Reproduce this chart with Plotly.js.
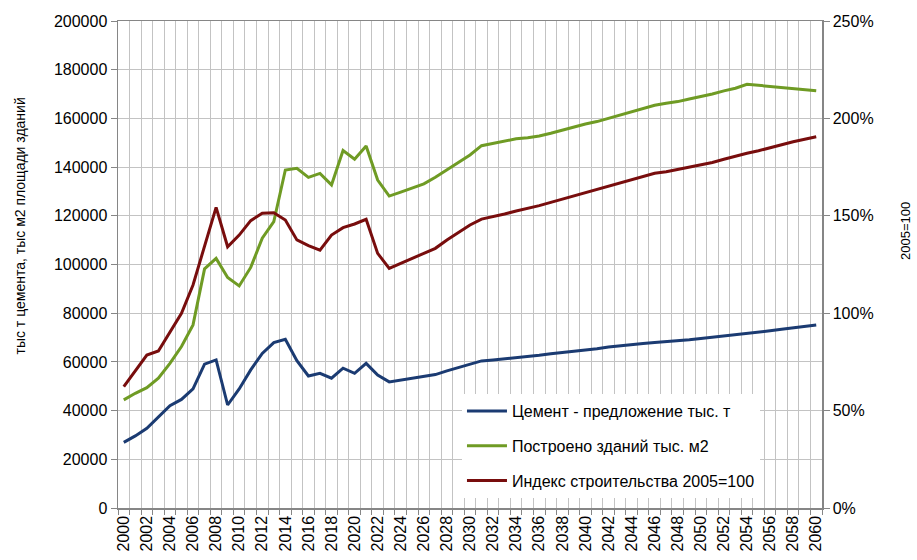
<!DOCTYPE html>
<html>
<head>
<meta charset="utf-8">
<script src="https://cdn.plot.ly/plotly-3.0.1.min.js"></script>
<style>html,body{margin:0;padding:0;background:#fff;}#chart{width:917px;height:560px;}</style>
</head>
<body>
<div id="chart"></div>
<script>
const years = [];
for (let y = 2000; y <= 2060; y++) years.push(y);

const cement = [26970,29600,32700,37500,42000,44600,48900,59100,60800,42300,
  48900,56700,63500,67900,69300,60500,54200,55300,53300,57400,
  55300,59400,54600,51800,52500,53300,54000,54800,56300,57600,
  58800,60400,60800,61200,61700,62300,62700,63300,63800,64400,
  64900,65400,66100,66700,67200,67600,68000,68300,68700,69100,
  69600,70100,70600,71200,71700,72300,72800,73400,73900,74500,75200];

const buildings = [44400,47100,49400,53300,59400,66300,75200,98200,102500,94700,
  91200,98800,110800,117600,138800,139500,135800,137400,132700,146800,
  143200,148700,134700,128100,129700,131300,133100,135800,138800,141800,
  145000,148800,149800,150700,151600,152100,152800,153900,155200,156300,
  157700,158700,160000,161400,162500,164100,165400,166200,166900,168000,
  168900,170000,171300,172400,174000,173600,173200,172800,172400,171900,171400];

const indexPct = [62.3,70.3,78.5,80.6,90.5,100,114.5,135,154.3,134.1,
  140.1,147.5,151.3,151.6,147.8,137.6,134.7,132.4,140.1,143.9,
  145.8,148.2,130.7,123,125.6,128.2,130.7,133.3,137.6,141.3,
  145.3,148.3,149.5,150.9,152.5,153.8,155.2,156.9,158.6,160.3,
  162,163.7,165.4,167,168.7,170.4,171.8,172.6,173.8,174.7,
  176.1,177.4,179,180.7,182.1,183.4,185,186.7,188,189.3,190.6];

const seriesNames = ["Цемент - предложение тыс. т", "Построено зданий тыс. м2", "Индекс строительства 2005=100"];
const xTickVals = years.filter(y => (y - 2000) % 2 === 0);
const xTickText = xTickVals.map(String);

const FONT = "Liberation Sans, Arial, sans-serif";

const traces = [
  {x: years, y: cement, name: seriesNames[0], type: "scatter", mode: "lines",
   line: {color: "#1b3b72", width: 3}, legendgroup: "a"},
  {x: years, y: buildings, name: seriesNames[1], type: "scatter", mode: "lines",
   line: {color: "#6f9b24", width: 3}, legendgroup: "b"},
  {x: years, y: indexPct, name: seriesNames[2], type: "scatter", mode: "lines",
   line: {color: "#780d0d", width: 3}, legendgroup: "c", yaxis: "y2"}
];

const layout = {
  width: 917, height: 560,
  margin: {l: 118, r: 95, t: 21, b: 52, pad: 0},
  paper_bgcolor: "#fff", plot_bgcolor: "#fff",
  font: {family: FONT, size: 16, color: "#000"},
  showlegend: true,
  legend: {x: 0.4886, y: 0.234, xanchor: "left", yanchor: "top",
    bgcolor: "#fff", borderwidth: 0, traceorder: "grouped", tracegroupgap: 11,
    itemwidth: 40, font: {family: FONT, size: 16, color: "#000"}},
  xaxis: {
    range: [1999.5, 2060.5], tickmode: "array", tickvals: xTickVals, ticktext: xTickText,
    tickangle: -90, ticks: "", showgrid: false, zeroline: false,
    showline: true, linecolor: "#868686", linewidth: 1.5, mirror: true,
    tickfont: {family: FONT, size: 16, color: "#000"},
    minor: {tickmode: "linear", tick0: 1999.5, dtick: 1, ticks: "outside", ticklen: 5,
      tickcolor: "#868686", showgrid: true, gridcolor: "#c3c3c3", gridwidth: 1}
  },
  yaxis: {
    range: [0, 200000], dtick: 20000, tick0: 0, showgrid: true, gridcolor: "#c3c3c3",
    zeroline: false, showline: true, linecolor: "#868686", linewidth: 1.5,
    ticks: "outside", ticklen: 6, tickcolor: "#868686",
    tickformat: "d", tickfont: {family: FONT, size: 16, color: "#000"}
  },
  yaxis2: {
    range: [0, 250], dtick: 50, tick0: 0, overlaying: "y", side: "right",
    showgrid: false, zeroline: false, showline: true, linecolor: "#868686", linewidth: 1.5,
    ticks: "outside", ticklen: 6, tickcolor: "#868686", ticksuffix: "%",
    tickfont: {family: FONT, size: 16, color: "#000"}
  },
  annotations: [
    {text: "тыс т цемента, тыс м2 площади зданий", xref: "paper", yref: "paper",
     x: 0, xshift: -98, y: 0.578, textangle: -90, showarrow: false,
     xanchor: "center", yanchor: "middle", font: {family: FONT, size: 14, color: "#000"}},
    {text: "2005=100", xref: "paper", yref: "paper",
     x: 1, xshift: 84, y: 0.569, textangle: -90, showarrow: false,
     xanchor: "center", yanchor: "middle", font: {family: FONT, size: 13, color: "#000"}}
  ]
};

Plotly.newPlot("chart", traces, layout, {staticPlot: true, displayModeBar: false});
</script>
</body>
</html>
